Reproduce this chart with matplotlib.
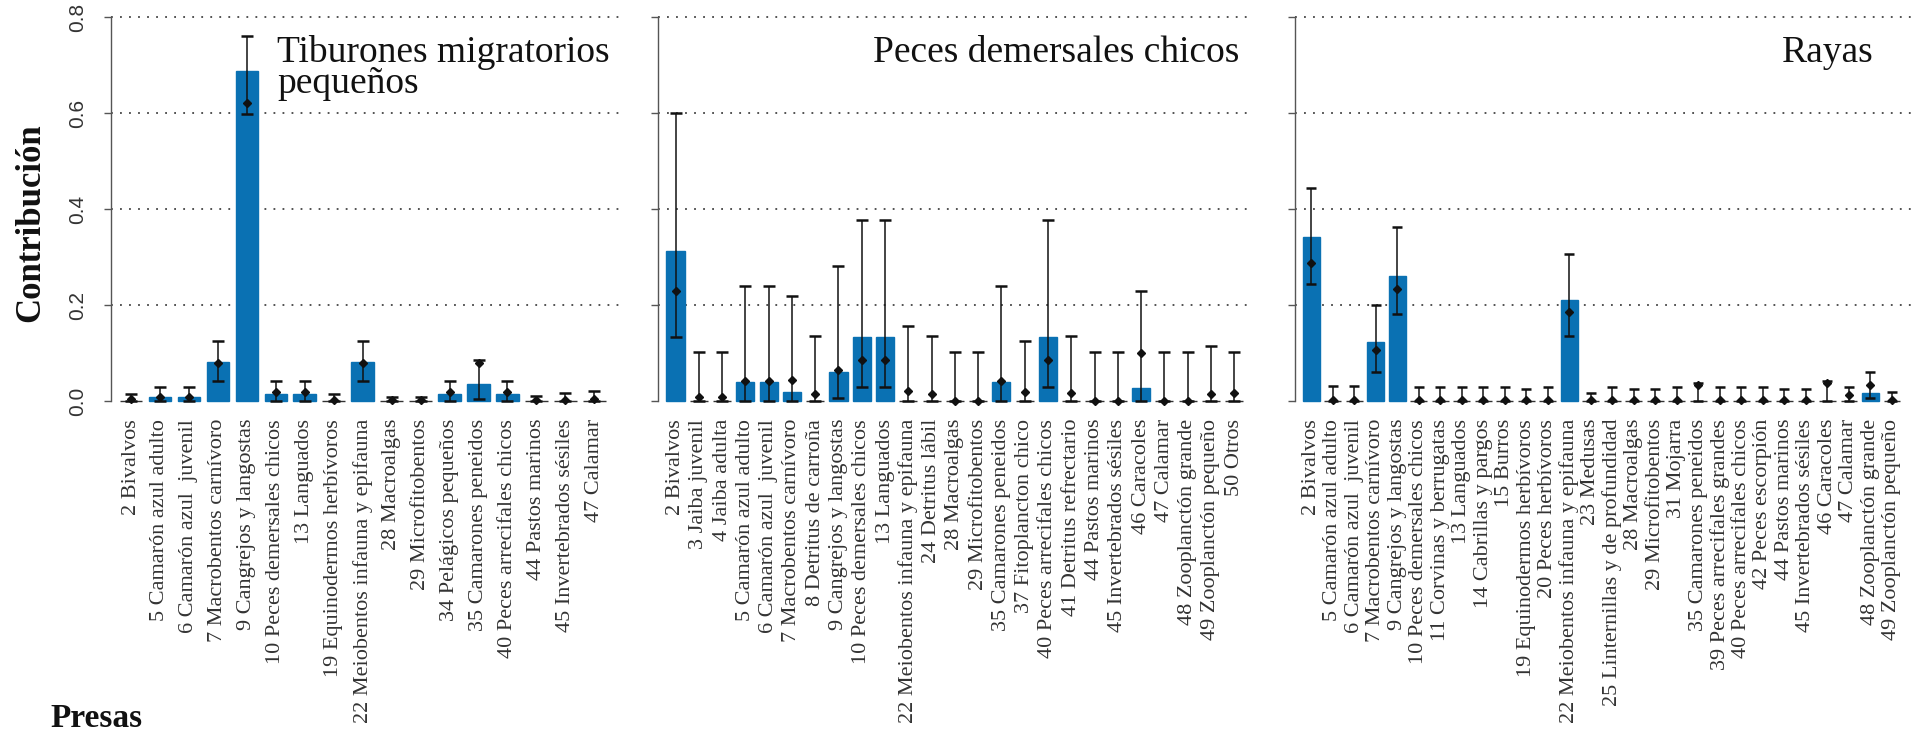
import matplotlib
matplotlib.use("Agg")
import matplotlib.pyplot as plt
import numpy as np

# ---------------- data ----------------
cats1 = ["2 Bivalvos", "5 Camarón azul adulto", "6 Camarón azul  juvenil",
         "7 Macrobentos carnívoro", "9 Cangrejos y langostas",
         "10 Peces demersales chicos", "13 Languados", "19 Equinodermos herbívoros",
         "22 Meiobentos infauna y epifauna", "28 Macroalgas", "29 Microfitobentos",
         "34 Pelágicos pequeños", "35 Camarones peneidos", "40 Peces arrecifales chicos",
         "44 Pastos marinos", "45 Invertebrados sésiles", "47 Calamar"]
bar1 = [0, 0.009, 0.009, 0.081, 0.688, 0.014, 0.014, 0, 0.081, 0, 0, 0.014, 0.036, 0.014, 0, 0, 0]
pt1 = [0.004, 0.009, 0.009, 0.080, 0.620, 0.018, 0.018, 0.003, 0.080, 0.002, 0.002, 0.018, 0.079, 0.018, 0.002, 0.003, 0.005]
lo1 = [0, 0, 0, 0.041, 0.598, 0, 0, 0, 0.041, 0, 0, 0, 0.004, 0, 0, 0, 0]
hi1 = [0.015, 0.030, 0.030, 0.126, 0.761, 0.042, 0.042, 0.014, 0.126, 0.009, 0.009, 0.042, 0.085, 0.042, 0.010, 0.016, 0.021]

cats2 = ["2 Bivalvos", "3 Jaiba juvenil", "4 Jaiba adulta", "5 Camarón azul adulto",
         "6 Camarón azul  juvenil", "7 Macrobentos carnívoro", "8 Detritus de carroña",
         "9 Cangrejos y langostas", "10 Peces demersales chicos", "13 Languados",
         "22 Meiobentos infauna y epifauna", "24 Detritus lábil", "28 Macroalgas",
         "29 Microfitobentos", "35 Camarones peneidos", "37 Fitoplancton chico",
         "40 Peces arrecifales chicos", "41 Detritus refrectario", "44 Pastos marinos",
         "45 Invertebrados sésiles", "46 Caracoles", "47 Calamar",
         "48 Zooplanctón grande", "49 Zooplanctón pequeño", "50 Otros"]
bar2 = [0.313, 0, 0, 0.039, 0.039, 0.018, 0, 0.061, 0.134, 0.134, 0, 0, 0, 0,
        0.039, 0, 0.134, 0, 0, 0, 0.028, 0, 0, 0, 0]
pt2 = [0.230, 0.009, 0.009, 0.042, 0.042, 0.044, 0.015, 0.064, 0.085, 0.085, 0.021, 0.015,
       0.001, 0.001, 0.041, 0.018, 0.085, 0.016, 0.001, 0.001, 0.101, 0.001, 0.001, 0.014, 0.016]
lo2 = [0.134, 0, 0, 0, 0, 0, 0, 0.007, 0.030, 0.030, 0, 0, 0, 0,
       0, 0, 0.030, 0, 0, 0, 0, 0, 0, 0, 0]
hi2 = [0.599, 0.103, 0.103, 0.240, 0.240, 0.219, 0.135, 0.282, 0.377, 0.377, 0.156, 0.135,
       0.103, 0.103, 0.240, 0.124, 0.377, 0.135, 0.103, 0.103, 0.229, 0.103, 0.103, 0.115, 0.103]

cats3 = ["2 Bivalvos", "5 Camarón azul adulto", "6 Camarón azul  juvenil",
         "7 Macrobentos carnívoro", "9 Cangrejos y langostas", "10 Peces demersales chicos",
         "11 Corvinas y berrugatas", "13 Languados", "14 Cabrillas y pargos", "15 Burros",
         "19 Equinodermos herbívoros", "20 Peces herbívoros",
         "22 Meiobentos infauna y epifauna", "23 Medusas", "25 Linternillas y de profundidad",
         "28 Macroalgas", "29 Microfitobentos", "31 Mojarra", "35 Camarones peneidos",
         "39 Peces arrecifales grandes", "40 Peces arrecifales chicos", "42 Peces escorpión",
         "44 Pastos marinos", "45 Invertebrados sésiles", "46 Caracoles", "47 Calamar",
         "48 Zooplanctón grande", "49 Zooplanctón pequeño"]
bar3 = [0.342, 0, 0, 0.122, 0.261, 0, 0, 0, 0, 0, 0, 0, 0.210, 0, 0, 0, 0, 0, 0,
        0, 0, 0, 0, 0, 0, 0, 0.016, 0]
pt3 = [0.287, 0.003, 0.003, 0.106, 0.233, 0.002, 0.002, 0.002, 0.002, 0.002, 0.002, 0.002,
       0.185, 0.002, 0.002, 0.002, 0.002, 0.002, 0.034, 0.002, 0.002, 0.002, 0.002, 0.002,
       0.037, 0.013, 0.033, 0.002]
lo3 = [0.243, 0, 0, 0.060, 0.181, 0, 0, 0, 0, 0, 0, 0, 0.136, 0, 0, 0, 0, 0, 0,
       0, 0, 0, 0, 0, 0, 0, 0.006, 0]
hi3 = [0.443, 0.031, 0.031, 0.200, 0.363, 0.030, 0.030, 0.030, 0.030, 0.030, 0.024, 0.030,
       0.306, 0.016, 0.030, 0.024, 0.024, 0.030, 0.037, 0.030, 0.030, 0.030, 0.024, 0.024,
       0.042, 0.030, 0.060, 0.019]

titles = ["Tiburones migratorios\npequeños", "Peces demersales chicos", "Rayas"]
ytick_vals = [0.0, 0.2, 0.4, 0.6, 0.8]
ytick_labels = ["0.0", "0.2", "0.4", "0.6", "0.8"]
ylabel = "Contribución"
xlabel = "Presas"

# ---------------- layout ----------------
W, H, DPI = 1917, 740, 100
fig = plt.figure(figsize=(W / DPI, H / DPI), dpi=DPI)

BLUE = "#0a71b3"
SERIF = ["Liberation Serif", "DejaVu Serif"]
SANS = ["Liberation Sans", "DejaVu Sans"]
Y0_PX, PX_PER_UNIT = 401, 480
YLIM = (-0.02, 0.82)
bottom_px = Y0_PX + (0 - YLIM[0]) * PX_PER_UNIT
top_px = Y0_PX - YLIM[1] * PX_PER_UNIT

panels = [
    dict(cats=cats1, bar=bar1, pt=pt1, lo=lo1, hi=hi1, L=111, R=624, c0=131, s=28.96, cap=4.4),
    dict(cats=cats2, bar=bar2, pt=pt2, lo=lo2, hi=hi2, L=658, R=1250, c0=675.5, s=23.28, cap=4.2),
    dict(cats=cats3, bar=bar3, pt=pt3, lo=lo3, hi=hi3, L=1295, R=1917, c0=1311.2, s=21.51, cap=3.7),
]

for i, p in enumerate(panels):
    ax = fig.add_axes([p["L"] / W, 1 - bottom_px / H, (p["R"] - p["L"]) / W,
                       (bottom_px - top_px) / H])
    n = len(p["cats"])
    x = np.arange(n)
    ax.set_xlim((p["L"] - p["c0"]) / p["s"], (p["R"] - p["c0"]) / p["s"])
    ax.set_ylim(*YLIM)
    for yv in ytick_vals[1:]:
        ax.axhline(yv, color="#444444", lw=1.3, ls=(0, (1, 4)), zorder=0)
    bar = np.array(p["bar"])
    pt = np.array(p["pt"])
    lo = np.array(p["lo"])
    hi = np.array(p["hi"])
    edges = [BLUE if v > 0 else "#333333" for v in bar]
    ax.bar(x, bar, width=0.78, color=BLUE, edgecolor=edges, linewidth=1.0, zorder=2)
    ax.errorbar(x, pt, yerr=[pt - lo, hi - pt], fmt="D", color="#111111", ms=4.2,
                elinewidth=1.1, capsize=p["cap"], capthick=1.8, zorder=3)
    for sp in ["top", "right", "bottom"]:
        ax.spines[sp].set_visible(False)
    ax.spines["left"].set_bounds(0, 0.8)
    ax.spines["left"].set_color("#555555")
    ax.spines["left"].set_linewidth(1.0)
    ax.set_yticks(ytick_vals)
    ax.tick_params(axis="y", direction="out", length=5, width=1.0, color="#555555", pad=12)
    if i == 0:
        ax.set_yticklabels(ytick_labels, rotation=90, va="center", fontsize=15,
                           family=SANS, color="#333333")
    else:
        ax.set_yticklabels([])
    ax.set_xticks(x)
    ax.set_xticklabels(p["cats"], rotation=90, fontsize=16, family=SERIF, color="#333333")
    ax.tick_params(axis="x", length=0, pad=6)
    ax.patch.set_alpha(0)

# titles (va='baseline' on a multi-line string anchors the last line)
fig.text(277 / W, 1 - 93 / H, titles[0], ha="left", va="baseline", fontsize=27,
         family=SERIF, color="#111111", linespacing=0.88)
fig.text(1239 / W, 1 - 62 / H, titles[1], ha="right", va="baseline", fontsize=27,
         family=SERIF, color="#111111")
fig.text(1874 / W, 1 - 62 / H, titles[2], ha="right", va="baseline", fontsize=27,
         family=SERIF, color="#111111")

fig.text(31 / W, 1 - 223 / H, ylabel, rotation=90, ha="center", va="center",
         fontsize=25, fontweight="bold", family=SERIF, color="#111111")
fig.text(50 / W, 1 - 727 / H, xlabel, ha="left", va="baseline",
         fontsize=24, fontweight="bold", family=SERIF, color="#111111")

fig.savefig("out.png", dpi=DPI)
